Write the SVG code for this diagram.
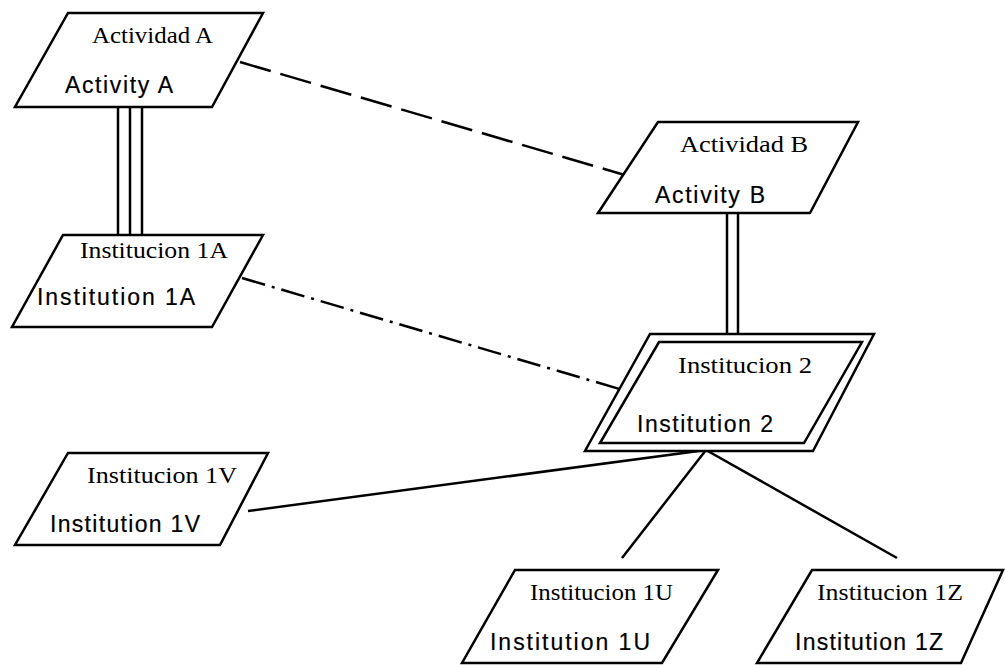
<svg xmlns="http://www.w3.org/2000/svg" width="1005" height="665" viewBox="0 0 1005 665">
<style>
.shape{fill:#fff;stroke:#000;stroke-width:2.5;stroke-linejoin:miter}
.es{font-family:"Liberation Serif","Times New Roman",serif;font-size:24px;fill:#000}
.en{font-family:"Liberation Sans",Arial,sans-serif;font-size:23px;fill:#000;stroke:#000;stroke-width:0.2}
.ln{stroke:#000;stroke-width:2.5;fill:none}
</style>
<rect width="1005" height="665" fill="#fff"/>
<g id="connectors">
<line class="ln" x1="240" y1="62" x2="628" y2="176" stroke-dasharray="32 10"/>
<line class="ln" x1="242" y1="278" x2="623" y2="390" stroke-dasharray="24 7 3 7"/>
<line class="ln" x1="118" y1="107" x2="118" y2="235"/>
<line class="ln" x1="130" y1="107" x2="130" y2="235"/>
<line class="ln" x1="142" y1="107" x2="142" y2="235"/>
<line class="ln" x1="727" y1="213" x2="727" y2="334"/>
<line class="ln" x1="738" y1="213" x2="738" y2="334"/>
<line class="ln" x1="248" y1="511" x2="706" y2="450"/>
<line class="ln" x1="706" y1="450" x2="622" y2="558"/>
<line class="ln" x1="706" y1="450" x2="897" y2="558"/>
</g>
<g id="activityA">
<polygon class="shape" points="68,13 263,13 212,107 15,107"/>
<text class="es" x="92" y="43" textLength="121" lengthAdjust="spacingAndGlyphs">Actividad A</text>
<text class="en" x="65" y="93" textLength="108" lengthAdjust="spacing">Activity A</text>
</g>
<g id="institution1A">
<polygon class="shape" points="63,235 263,235 212,327 12,327"/>
<text class="es" x="80" y="258" textLength="148" lengthAdjust="spacingAndGlyphs">Institucion 1A</text>
<text class="en" x="37" y="305" textLength="158" lengthAdjust="spacing">Institution 1A</text>
</g>
<g id="activityB">
<polygon class="shape" points="658,122 858,122 810,213 598,213"/>
<text class="es" x="680" y="152" textLength="128" lengthAdjust="spacingAndGlyphs">Actividad B</text>
<text class="en" x="655" y="203" textLength="110" lengthAdjust="spacing">Activity B</text>
</g>
<g id="institution2">
<polygon class="shape" points="650,334 874,334 813,451 585,451"/>
<polygon class="shape" points="659,342 862,342 804,443 600,443"/>
<text class="es" x="678" y="373" textLength="134" lengthAdjust="spacingAndGlyphs">Institucion 2</text>
<text class="en" x="637" y="432" textLength="136" lengthAdjust="spacing">Institution 2</text>
</g>
<g id="institution1V">
<polygon class="shape" points="68,453 268,453 220,545 15,545"/>
<text class="es" x="87" y="483" textLength="150" lengthAdjust="spacingAndGlyphs">Institucion 1V</text>
<text class="en" x="50" y="532" textLength="150" lengthAdjust="spacing">Institution 1V</text>
</g>
<g id="institution1U">
<polygon class="shape" points="515,570 718,570 662,663 462,663"/>
<text class="es" x="530" y="600" textLength="143" lengthAdjust="spacingAndGlyphs">Institucion 1U</text>
<text class="en" x="490" y="650" textLength="160" lengthAdjust="spacing">Institution 1U</text>
</g>
<g id="institution1Z">
<polygon class="shape" points="812,570 1003,570 961,663 757,663"/>
<text class="es" x="817" y="600" textLength="146" lengthAdjust="spacingAndGlyphs">Institucion 1Z</text>
<text class="en" x="795" y="650" textLength="148" lengthAdjust="spacing">Institution 1Z</text>
</g>
</svg>
